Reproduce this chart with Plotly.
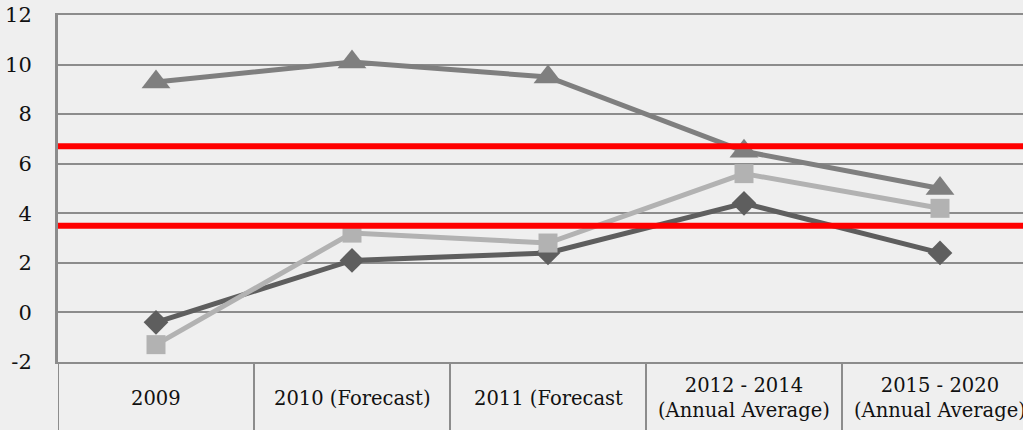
import plotly.graph_objects as go

# Category labels (two-line labels use <br>)
categories = ["2009", "2010 (Forecast)", "2011 (Forecast",
              "2012 - 2014<br>(Annual Average)", "2015 - 2020<br>(Annual Average)"]

# Series values
series_triangle = [9.3, 10.1, 9.5, 6.5, 5.0]
series_diamond = [-0.4, 2.1, 2.4, 4.4, 2.4]
series_square = [-1.3, 3.2, 2.8, 5.6, 4.2]

# Reference band levels (red lines)
ref_levels = [6.7, 3.5]

y_ticks = [-2, 0, 2, 4, 6, 8, 10, 12]
y_tick_text = ["-2", "0", "2", "4", "6", "8", "10", "12"]

FONT = "DejaVu Serif"
GRID = "#8c8c8c"

x_idx = list(range(len(categories)))

fig = go.Figure()

fig.add_trace(go.Scatter(
    x=x_idx, y=series_triangle, mode="lines+markers",
    line=dict(color="#7f7f7f", width=5),
    marker=dict(symbol="triangle-up", size=25, color="#7f7f7f"),
))
fig.add_trace(go.Scatter(
    x=x_idx, y=series_diamond, mode="lines+markers",
    line=dict(color="#5e5e5e", width=5),
    marker=dict(symbol="diamond", size=19, color="#5e5e5e"),
))
fig.add_trace(go.Scatter(
    x=x_idx, y=series_square, mode="lines+markers",
    line=dict(color="#b2b2b2", width=5),
    marker=dict(symbol="square", size=19, color="#b2b2b2"),
))

shapes = []
# red horizontal reference lines across the plot
for lv in ref_levels:
    shapes.append(dict(type="line", xref="paper", x0=0, x1=1.02, yref="y", y0=lv, y1=lv,
                       line=dict(color="#ff0000", width=6), layer="above"))
# category separators in the label band below the plot
for k in range(len(categories)):
    b = k - 0.5
    shapes.append(dict(type="line", xref="x", x0=b, x1=b, yref="paper", y0=-0.25, y1=0,
                       line=dict(color=GRID, width=2), layer="above"))

annotations = []
for i, c in enumerate(categories):
    annotations.append(dict(x=i, xref="x", y=-0.105, yref="paper", text=c,
                            showarrow=False, xanchor="center", yanchor="middle",
                            font=dict(family=FONT, size=19.5, color="#111111")))

plot_w = 1023 - 58
cat_px = 196.0

fig.update_layout(
    width=1023, height=430,
    margin=dict(l=58, r=0, t=15, b=68),
    paper_bgcolor="#efefef", plot_bgcolor="rgba(0,0,0,0)",
    showlegend=False,
    shapes=shapes, annotations=annotations,
    font=dict(family=FONT, size=21, color="#111111"),
    xaxis=dict(range=[-0.5, -0.5 + plot_w / cat_px], showgrid=False, zeroline=False,
               showticklabels=False, ticks="", showline=True, mirror=True,
               linecolor=GRID, linewidth=2, fixedrange=True),
    yaxis=dict(range=[-2, 12], tickvals=y_ticks, ticktext=y_tick_text,
               showgrid=True, gridcolor=GRID, gridwidth=2,
               zeroline=False, showline=True, linecolor=GRID, linewidth=3, ticks="",
               ticklabelstandoff=19, tickfont=dict(family=FONT, size=21, color="#111111"),
               fixedrange=True),
)

fig.write_html("out.html")
